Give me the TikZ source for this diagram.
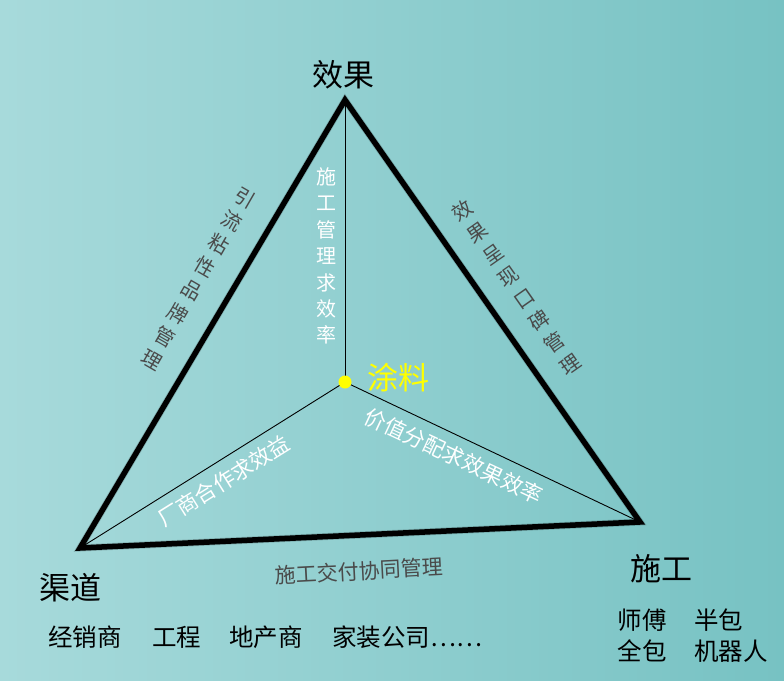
\documentclass[tikz,border=0pt]{standalone}
\usepackage{fontspec}
\setmainfont{Noto Sans CJK SC}
\definecolor{bgleft}{HTML}{A7DADB}
\definecolor{bgright}{HTML}{77C2C3}
\definecolor{edgegray}{HTML}{4A4A4A}
\definecolor{dotyellow}{HTML}{FFFF00}
\tikzset{
  thickedge/.style={line width=5.5pt, black, line join=miter},
  shadowedge/.style={line width=7pt, black, opacity=0.18, line join=miter},
  thinline/.style={line width=0.9pt, black},
  head/.style={inner sep=0pt, text=black, font=\fontsize{31}{31}\selectfont},
  yl/.style={inner sep=0pt, text=dotyellow, font=\fontsize{31}{31}\selectfont},
  stackw/.style={inner sep=0pt, align=center, text=white, font=\fontsize{20}{26.4}\selectfont},
  stackg/.style={inner sep=0pt, align=center, text=edgegray, font=\fontsize{20}{26.8}\selectfont},
  inw/.style={inner sep=0pt, text=white, font=\fontsize{21.5}{22}\selectfont},
  gl/.style={inner sep=0pt, text=edgegray, font=\fontsize{21}{22}\selectfont},
  sub/.style={inner sep=0pt, text=black, font=\fontsize{24.5}{25}\selectfont},
}
\begin{document}
\begin{tikzpicture}[x=1pt,y=-1pt]
\useasboundingbox (0,0) rectangle (784,680);
\shade[left color=bgleft, right color=bgright] (0,0) rectangle (784,680);

\coordinate (T) at (345,100);
\coordinate (L) at (80,548);
\coordinate (R) at (640,522);
\coordinate (C) at (345,382);

% thin inner lines
\draw[thinline] (C) -- (T);
\draw[thinline] (C) -- (L);
\draw[thinline] (C) -- (R);

% shadow and thick triangle
\begin{scope}[shift={(2,2)}]
\draw[shadowedge] (T) -- (R) -- (L) -- cycle;
\end{scope}
\draw[thickedge] (T) -- (R) -- (L) -- cycle;

\fill[dotyellow] (C) circle (6.5);

% corner labels
\node[head] (xg) at (343,75) {效果};
\node[head] (qd) at (70,588) {渠道};
\node[head] (sg) at (661,569) {施工};
\node[yl] (tl) at (398,378) {涂料};

% stacked labels
\node[stackw] (c1) at (326,256) {施\\工\\管\\理\\求\\效\\率};
\node[stackg, rotate=-30] (e1) at (198.5,278.5) {引\\流\\粘\\性\\品\\牌\\管\\理};
\node[stackg, rotate=35] (e2) at (516,287) {效\\果\\呈\\现\\口\\碑\\管\\理};

% inner and bottom labels
\node[inw, rotate=32] (i1) at (224,481) {厂商合作求效益};
\node[inw, rotate=-25] (i2) at (454,456) {价值分配求效果效率};
\node[gl, rotate=3] (b1) at (359,571) {施工交付协同管理};

% lists
\node[sub] (q1) at (85,637) {经销商};
\node[sub] (q2) at (176.5,637) {工程};
\node[sub] (q3) at (266,637) {地产商};
\node[sub, anchor=west] (q4) at (332,637) {家装公司……};

\node[sub] (s1) at (642,620) {师傅};
\node[sub] (s2) at (718.5,620) {半包};
\node[sub] (s3) at (642,651) {全包};
\node[sub] (s4) at (731,651) {机器人};
\end{tikzpicture}
\end{document}
